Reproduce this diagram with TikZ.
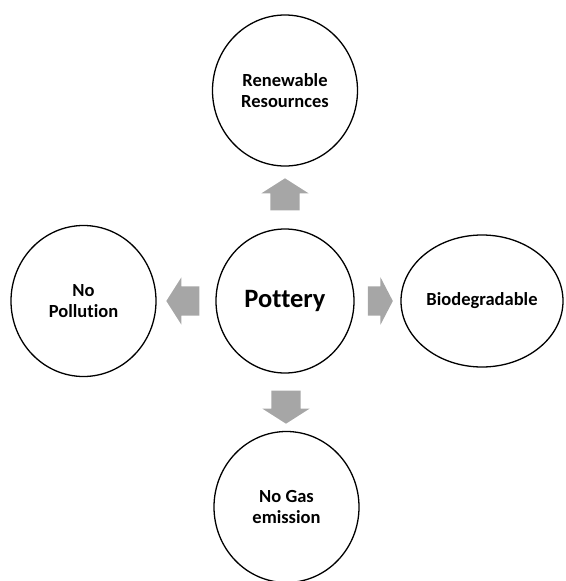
\documentclass[tikz,border=0pt]{standalone}
\usepackage{fontspec}
\setmainfont{Carlito}[Ligatures=NoCommon]
\usetikzlibrary{shapes, arrows, positioning}

\begin{document}
\begin{tikzpicture}[node distance=205pt]
        \tikzstyle{blob} = [ellipse, minimum width = 145pt, minimum height = 151pt, inner sep=0pt, text centered, align=center, draw=black, line width=1.3pt, font=\fontsize{18.5}{21}\selectfont\bfseries]
        \tikzstyle{topblob} = [blob, minimum width = 138pt, minimum height = 144pt, font=\fontsize{26.5}{30}\selectfont\bfseries]
        \tikzstyle{ovalblob} = [blob, minimum width = 162pt, minimum height = 132pt]
        \tikzstyle{blockarrow} = [single arrow, draw=none, fill=black!35, inner xsep=0pt, inner ysep=14.5pt, single arrow head extend=9pt, single arrow tip angle=115]
        \tikzstyle{vblockarrow} = [blockarrow, inner xsep=14.5pt, inner ysep=0pt]

        \useasboundingbox (0,0) rectangle (565pt,-581pt);

        \node (Pot) [topblob] at (285pt,-301pt) {Pottery};
        \node (Renew) [blob, above of=Pot, yshift=5.5pt] {Renewable \\ Resournces};
        \node (Poll) [blob, left of=Pot, xshift=3.5pt] {No \\ Pollution};
        \node (Bio) [ovalblob, right of=Pot, xshift=-8pt] {Biodegradable};
        \node (Gas) [blob, below of=Pot, xshift=1.5pt, yshift=-1pt] {No Gas \\ emission};

        % block arrows between the centre and the outer blobs
        \node (upArr) [vblockarrow, shape border rotate=90, minimum height=32pt, above of=Pot, node distance=102pt] {};
        \node (leftArr) [blockarrow, shape border rotate=180, minimum height=33pt, left of=Pot, node distance=97.5pt] {};
        \node (rightArr) [blockarrow, minimum height=25pt, single arrow tip angle=125, right of=Pot, node distance=91.5pt] {};
        \node (downArr) [vblockarrow, shape border rotate=270, minimum height=33pt, below of=Pot, node distance=101.5pt, xshift=1pt] {};

    \end{tikzpicture}
\end{document}
